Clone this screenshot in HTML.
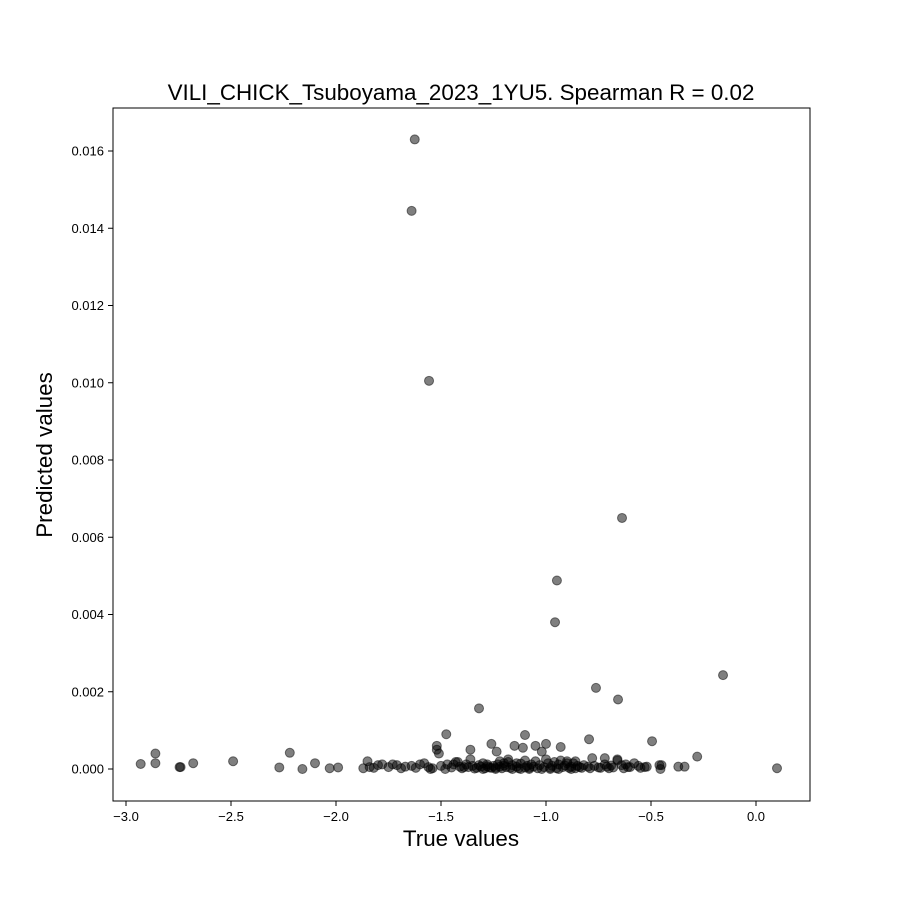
<!DOCTYPE html>
<html><head><meta charset="utf-8"><style>
body{margin:0;background:#fff;}
svg{font-family:"Liberation Sans","DejaVu Sans",sans-serif;}
</style></head><body>
<svg width="900" height="900">
<rect width="900" height="900" fill="#fff"/>
<text x="461" y="100" font-size="22.4" text-anchor="middle">VILI_CHICK_Tsuboyama_2023_1YU5. Spearman R = 0.02</text>
<g id="points"></g>
<rect x="113" y="108" width="697" height="693" fill="none" stroke="#000" stroke-width="1"/>
<g id="xt"></g>
<g id="yt"></g>
<text x="461" y="846" font-size="22.4" text-anchor="middle">True values</text>
<text transform="translate(52,455) rotate(-90)" font-size="22.4" text-anchor="middle">Predicted values</text>
</svg>
<script>
const xTicks=[-3.0,-2.5,-2.0,-1.5,-1.0,-0.5,0.0];
const xTickLabels=["\u22123.0","\u22122.5","\u22122.0","\u22121.5","\u22121.0","\u22120.5","0.0"];
const yTicks=[0,0.002,0.004,0.006,0.008,0.010,0.012,0.014,0.016];
const yTickLabels=["0.000","0.002","0.004","0.006","0.008","0.010","0.012","0.014","0.016"];
const trueVals=[-1.625,-1.64,-1.557,-0.638,-0.948,-0.957,-0.157,-0.762,-0.657,-1.319,-0.495,-0.795,-1.475,-1.1,-1.26,-1.15,-1.05,-1.0,-0.93,-1.52,-1.52,-1.51,-1.36,-1.235,-1.11,-1.02,-0.28,
-2.93,-2.86,-2.86,-2.74,-2.745,-2.68,-2.49,-2.27,-2.22,-2.16,-2.1,-2.03,-1.99,-1.87,-1.85,-1.84,0.1,-0.37,-0.34,-0.46,-0.455,-0.45,-0.53,-0.58,-0.6,-0.66,-0.78,-0.9,
-1.82,-1.8,-1.78,-1.75,-1.73,-1.71,-1.69,-1.67,-1.64,-1.62,-1.6,-1.58,-1.56,-1.54,-1.5,-1.47,-1.45,-1.43,-1.41,-1.4,-1.38,-1.37,-1.35,-1.34,-1.33,-1.31,-1.3,-1.29,-1.28,-1.27,-1.25,-1.24,-1.23,-1.22,-1.21,-1.2,-1.19,-1.18,-1.17,-1.16,-1.14,-1.13,-1.12,-1.1,-1.09,-1.08,-1.07,-1.06,-1.04,-1.03,-1.01,-0.99,-0.98,-0.97,-0.95,-0.94,-0.92,-0.91,-0.89,-0.88,-0.87,-0.86,-0.85,-0.84,-0.83,-0.82,-0.8,-0.79,-0.77,-0.75,-0.74,-0.72,-0.71,-0.7,-0.69,-0.68,-0.64,-0.63,-0.62,-0.61,-0.56,-0.55,-0.52,
-1.44,-1.39,-1.32,-1.26,-1.22,-1.18,-1.14,-1.1,-1.05,-1.0,-0.96,-0.93,-0.9,-0.86,-1.42,-1.36,-1.28,-1.2,-1.16,-1.12,-1.08,-1.02,-0.98,-0.94,-0.88,-1.55,-1.48,-1.3,-1.24,-0.72,-0.66];
const predVals=[0.0163,0.01445,0.01005,0.0065,0.00488,0.0038,0.00243,0.0021,0.0018,0.00157,0.00072,0.00077,0.0009,0.00088,0.00065,0.0006,0.0006,0.00065,0.00057,0.0006,0.0005,0.0004,0.0005,0.00045,0.00055,0.00045,0.00032,
0.00013,0.0004,0.00015,0.00005,0.00005,0.00015,0.0002,0.00004,0.00042,0.0,0.00015,0.00002,0.00004,0.00002,0.0002,0.00005,0.00002,0.00006,0.00006,0.0001,0.0,0.0001,0.00005,0.00015,0.00005,0.00025,0.00028,0.0002,
0.00003,0.0001,0.00012,0.00005,0.00012,0.0001,0.00002,0.00006,0.00008,0.00003,0.00012,0.00015,0.00005,0.00002,0.00008,0.00012,0.00004,0.00018,0.00006,0.00002,0.00012,0.00005,0.00008,0.00001,0.00003,0.00006,0.00015,0.00002,0.00007,0.00004,0.00008,0.00003,0.00012,0.00006,0.00002,0.00009,0.00005,0.00018,0.00003,0.0001,0.00006,0.00002,0.00014,0.00004,0.00008,0.00003,0.00012,0.00006,0.00002,0.0001,0.00005,0.00015,0.00003,0.00008,0.00002,0.00012,0.00005,0.00009,0.00003,0.00006,0.00015,0.00002,0.00008,0.00005,0.00003,0.0001,0.00006,0.00002,0.00008,0.00004,0.00003,0.00012,0.00006,0.00002,0.00009,0.00004,0.0001,0.00002,0.00012,0.00005,0.00008,0.00003,0.00006,0.00012,0.00005,0.0001,0.00003,
0.0002,0.00025,0.00015,0.00022,0.0002,0.00025,0.00018,0.00022,0.00015,0.0002,0.00018,0.00025,0.00012,0.00015,0.0,0.0,0.0,0.0,0.0,0.0,0.0,0.0,0.0,0.0,0.0,0.00028,0.00022,0.0002,0.0001,0.00015,0.00012];
const NS="http://www.w3.org/2000/svg";
function xs(v){return 756+210*v;}
function ys(v){return 769-38625*v;}
const pg=document.getElementById('points');
for(let i=0;i<trueVals.length;i++){
 const c=document.createElementNS(NS,'circle');
 c.setAttribute('cx',xs(trueVals[i]));c.setAttribute('cy',ys(predVals[i]));c.setAttribute('r',4.5);
 c.setAttribute('fill','rgba(0,0,0,0.5)');c.setAttribute('stroke','rgba(0,0,0,0.5)');c.setAttribute('stroke-width',1);
 
 
 pg.appendChild(c);
}
const xg=document.getElementById('xt');
xTicks.forEach((t,i)=>{
 const l=document.createElementNS(NS,'line');
 l.setAttribute('x1',xs(t));l.setAttribute('x2',xs(t));l.setAttribute('y1',801);l.setAttribute('y2',806);l.setAttribute('stroke','#000');
 
 
 xg.appendChild(l);
 const tx=document.createElementNS(NS,'text');
 tx.setAttribute('x',xs(t));tx.setAttribute('y',821);tx.setAttribute('font-size',13);tx.setAttribute('text-anchor','middle');
 tx.textContent=xTickLabels[i];
 
 
 xg.appendChild(tx);
});
const yg=document.getElementById('yt');
yTicks.forEach((t,i)=>{
 const l=document.createElementNS(NS,'line');
 l.setAttribute('x1',108);l.setAttribute('x2',113);l.setAttribute('y1',ys(t));l.setAttribute('y2',ys(t));l.setAttribute('stroke','#000');
 
 
 yg.appendChild(l);
 const tx=document.createElementNS(NS,'text');
 tx.setAttribute('x',104);tx.setAttribute('y',ys(t)+4.5);tx.setAttribute('font-size',13);tx.setAttribute('text-anchor','end');
 tx.textContent=yTickLabels[i];
 
 
 yg.appendChild(tx);
});
</script>
</body></html>
